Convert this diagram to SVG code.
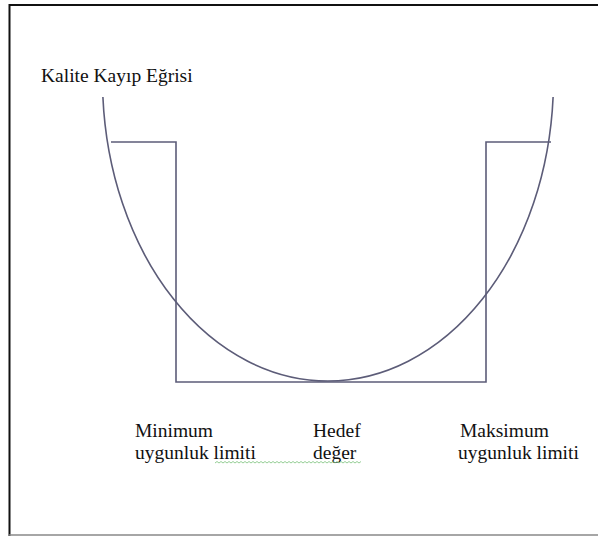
<svg xmlns="http://www.w3.org/2000/svg" width="598" height="536" viewBox="0 0 598 536">
<style>
.t{font-family:"Liberation Serif","Times New Roman",serif;font-size:19.5px;fill:#111}
.ln{fill:none;stroke:#5c5c78;stroke-width:1.6}
</style>
<rect width="598" height="536" fill="#fff"/>
<g id="frame">
<line x1="9" y1="5" x2="600" y2="5" stroke="#111" stroke-width="2"/>
<line x1="9.5" y1="4" x2="9.5" y2="536" stroke="#111" stroke-width="2"/>
<line x1="9" y1="535" x2="600" y2="535" stroke="#888" stroke-width="1.5"/>
</g>
<g id="title"><text class="t" x="41" y="82">Kalite Kayıp Eğrisi</text></g>
<g id="loss-curve"><path class="ln" d="M102.9,97 A225.5,302 0 0 0 553.1,97"/></g>
<g id="limits"><path class="ln" d="M111,142 H176 V382 H486 V142 H551"/></g>
<g id="min-label"><text class="t" x="135" y="437">Minimum</text><text class="t" x="135" y="459">uygunluk limiti</text></g>
<g id="target-label"><text class="t" x="313" y="437">Hedef</text><text class="t" x="313" y="459">değer</text></g>
<g id="max-label"><text class="t" x="460" y="437">Maksimum</text><text class="t" x="458" y="459">uygunluk limiti</text></g>
<g id="squiggle"><path d="M215,463 l2,-1.5 l2,1.5 l2,-1.5 l2,1.5 l2,-1.5 l2,1.5 l2,-1.5 l2,1.5 l2,-1.5 l2,1.5 l2,-1.5 l2,1.5 l2,-1.5 l2,1.5 l2,-1.5 l2,1.5 l2,-1.5 l2,1.5 l2,-1.5 l2,1.5 l2,-1.5 l2,1.5 l2,-1.5 l2,1.5 l2,-1.5 l2,1.5 l2,-1.5 l2,1.5 l2,-1.5 l2,1.5 l2,-1.5 l2,1.5 l2,-1.5 l2,1.5 l2,-1.5 l2,1.5 l2,-1.5 l2,1.5 l2,-1.5 l2,1.5 l2,-1.5 l2,1.5 l2,-1.5 l2,1.5 l2,-1.5 l2,1.5 l2,-1.5 l2,1.5 l2,-1.5 l2,1.5 l2,-1.5 l2,1.5 l2,-1.5 l2,1.5 l2,-1.5 l2,1.5 l2,-1.5 l2,1.5 l2,-1.5 l2,1.5 l2,-1.5 l2,1.5 l2,-1.5 l2,1.5 l2,-1.5 l2,1.5 l2,-1.5 l2,1.5 l2,-1.5 l2,1.5 l2,-1.5 l2,1.5 l2,-1.5" fill="none" stroke="#7ac27a" stroke-width="0.8"/></g>
</svg>
